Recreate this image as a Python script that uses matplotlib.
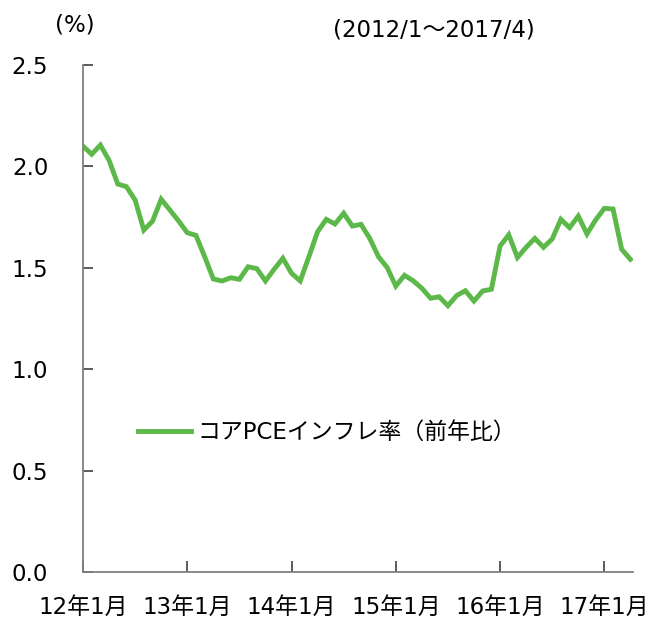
import matplotlib.pyplot as plt
import numpy as np

plt.rcParams['font.family'] = ['DejaVu Sans', 'Noto Sans CJK JP']

# core PCE inflation, y/y %, monthly 2012/1 - 2017/4
pce = [2.10, 2.06, 2.105, 2.03, 1.913, 1.90, 1.834, 1.686, 1.73, 1.838,
       1.785, 1.731, 1.673, 1.66, 1.555, 1.445, 1.435, 1.451, 1.443, 1.505,
       1.496, 1.435, 1.493, 1.547, 1.473, 1.435, 1.555, 1.678, 1.739, 1.716,
       1.769, 1.706, 1.714, 1.645, 1.555, 1.502, 1.41, 1.463, 1.436, 1.399,
       1.35, 1.357, 1.313, 1.363, 1.387, 1.336, 1.386, 1.394, 1.607, 1.663,
       1.551, 1.601, 1.645, 1.601, 1.642, 1.739, 1.698, 1.755, 1.667, 1.736,
       1.793, 1.79, 1.591, 1.542]
xlabels = ['12年1月', '13年1月', '14年1月', '15年1月', '16年1月', '17年1月']
ylabels = ['0.0', '0.5', '1.0', '1.5', '2.0', '2.5']

fig = plt.figure(figsize=(6.51, 6.2), dpi=100)
ax = fig.add_axes([83/651, 48/620, 550/651, 507/620])

x = np.arange(len(pce))
ax.plot(x, pce, color='#5cb848', lw=3.5, solid_joinstyle='miter',
        label='コアPCEインフレ率（前年比）')

ax.set_xlim(0, 63.3)
ax.set_ylim(0, 2.5)
ax.set_xticks(np.arange(0, 72, 12))
ax.set_xticklabels(xlabels)
ax.set_yticks(np.arange(0, 2.6, 0.5))
ax.set_yticklabels(ylabels)

for s in ['top', 'right']:
    ax.spines[s].set_visible(False)
for s in ['left', 'bottom']:
    ax.spines[s].set_color('#808080')
    ax.spines[s].set_linewidth(1.3)

ax.tick_params(axis='y', direction='in', length=7, width=1.2, color='#404040',
               pad=25, labelsize=16.5)
ax.tick_params(axis='x', direction='in', length=8, width=1.2, color='#404040',
               pad=17, labelsize=16.5)

ax.legend(loc='center left', bbox_to_anchor=(0.1, 0.276), frameon=False,
          fontsize=16.5, handlelength=2.3, handletextpad=0.3,
          borderpad=0, borderaxespad=0)

fig.text(55/651, 1 - 25/620, '(%)', fontsize=16.5, va='center')
fig.text(333/651, 1 - 30/620, '(2012/1～2017/4)', fontsize=16.5, va='center')

fig.savefig('out.png')
